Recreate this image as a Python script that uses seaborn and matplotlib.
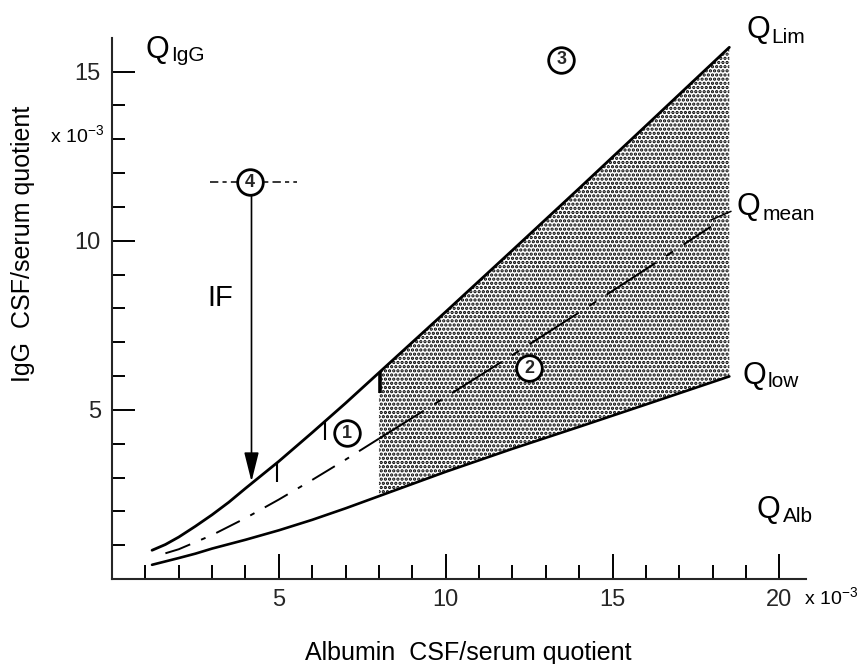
import numpy as np
import pandas as pd
import matplotlib
matplotlib.use("Agg")
import matplotlib.pyplot as plt
from matplotlib.ticker import FixedLocator
import seaborn as sns

# ---------------- data (quotients in units of 10^-3) ----------------
qalb = [1.2, 1.6, 2.0, 2.5, 3.0, 3.5, 4.0, 5.0, 6.0, 7.0, 8.0, 10.0, 12.0, 14.0, 16.0, 18.5]
q_lim = [0.85, 1.02, 1.24, 1.56, 1.90, 2.27, 2.68, 3.48, 4.33, 5.20, 6.10, 7.90, 9.72, 11.55, 13.40, 15.72]
q_low = [0.42, 0.52, 0.62, 0.75, 0.90, 1.03, 1.16, 1.44, 1.75, 2.09, 2.45, 3.17, 3.85, 4.50, 5.16, 5.99]
qalb_mean = [1.6, 2.0, 3.0, 4.0, 5.0, 6.0, 7.0, 8.0, 10.0, 12.0, 14.0, 16.0, 17.95]
q_mean = [0.76, 0.88, 1.30, 1.80, 2.35, 2.93, 3.53, 4.15, 5.38, 6.62, 7.88, 9.16, 10.42]
shade_start = 8.0

marker_x = [4.93, 6.38, 8.02]
marker_bottom = [2.88, 4.11, 5.49]
marker_top = [3.42, 4.65, 6.13]

zone_labels = ["1", "2", "3", "4"]
zone_x = [7.05, 12.51, 13.46, 4.13]
zone_y = [4.31, 6.23, 15.35, 11.73]

if_x = 4.18
if_top = 11.33
if_bottom = 2.88
iso_line_x = [2.93, 5.53]
iso_line_y = [11.73, 11.73]

x_major = [5, 10, 15, 20]
x_minor = [1, 2, 3, 4, 6, 7, 8, 9, 11, 12, 13, 14, 16, 17, 18, 19]
y_major = [5, 10, 15]
y_minor = [1, 2, 3, 4, 6, 7, 8, 9, 11, 12, 13, 14]

# ---------------- style ----------------
sns.set_theme(style="ticks")
plt.rcParams["font.family"] = ["Liberation Sans", "DejaVu Sans"]
plt.rcParams["mathtext.fontset"] = "custom"
plt.rcParams["mathtext.rm"] = "Liberation Sans"
plt.rcParams["lines.scale_dashes"] = False
plt.rcParams["hatch.linewidth"] = 1.6
plt.rcParams["hatch.color"] = "black"

fig = plt.figure(figsize=(8.59, 6.64), dpi=100)
ax = fig.add_axes([0.1304, 0.128, 0.808, 0.815])
ax.set_xlim(0, 20.8)
ax.set_ylim(0, 16.0)

df = pd.DataFrame({"qalb": qalb, "lim": q_lim, "low": q_low})
dm = pd.DataFrame({"qalb": qalb_mean, "mean": q_mean})

# stippled region
sh = df[df["qalb"] >= shade_start]
ax.fill_between(sh["qalb"], sh["low"], sh["lim"], facecolor="white",
                edgecolor="black", hatch="....", linewidth=0, zorder=1)

# curves
sns.lineplot(data=df, x="qalb", y="lim", ax=ax, color="black", lw=2.0, zorder=3)
sns.lineplot(data=df, x="qalb", y="low", ax=ax, color="black", lw=1.9, zorder=3)
dm1 = dm[dm["qalb"] <= shade_start]
dm2 = dm[dm["qalb"] >= shade_start]
sns.lineplot(data=dm1, x="qalb", y="mean", ax=ax, color="black", lw=1.4,
             linestyle=(0, (19, 8.5, 3.5, 8.5)), zorder=3)
sns.lineplot(data=dm2, x="qalb", y="mean", ax=ax, color="black", lw=1.4,
             linestyle=(4, (42, 9, 6, 9)), zorder=3)

# marker bars on Q_Lim
for xm, yb, yt, w in zip(marker_x, marker_bottom, marker_top, [1.5, 1.5, 2.6]):
    ax.plot([xm, xm], [yb, yt], color="black", lw=w, zorder=3, solid_capstyle="butt")

# dashed horizontal line through zone 4
sns.lineplot(x=iso_line_x, y=iso_line_y, ax=ax, color="black", lw=1.1,
             linestyle=(0, (6, 3, 3, 3)), zorder=3)

# IF arrow
ax.annotate("", xy=(if_x, if_bottom), xytext=(if_x, if_top),
            arrowprops=dict(arrowstyle="-|>,head_length=0.4,head_width=0.1",
                            mutation_scale=45, lw=1.2, color="black",
                            shrinkA=0, shrinkB=0), zorder=4)

# zone circles
sns.scatterplot(x=zone_x, y=zone_y, ax=ax, s=340, marker="o", facecolor="white",
                edgecolor="black", linewidth=2.0, zorder=5)
for lab, zx, zy in zip(zone_labels, zone_x, zone_y):
    ax.text(zx, zy, lab, ha="center", va="center", fontsize=13, fontweight="bold",
            zorder=6)

# axes styling
sns.despine(ax=ax)
for s in ["left", "bottom"]:
    ax.spines[s].set_linewidth(1.5)
ax.xaxis.set_major_locator(FixedLocator(x_major))
ax.xaxis.set_minor_locator(FixedLocator(x_minor))
ax.yaxis.set_major_locator(FixedLocator(y_major))
ax.yaxis.set_minor_locator(FixedLocator(y_minor))
ax.tick_params(axis="x", which="major", direction="in", length=18, width=1.4,
               labelsize=17, pad=7, color="black")
ax.tick_params(axis="x", which="minor", direction="in", length=10, width=1.4, color="black")
ax.tick_params(axis="y", which="major", direction="in", length=16.5, width=1.4,
               labelsize=17, pad=8, color="black")
ax.tick_params(axis="y", which="minor", direction="in", length=9.5, width=1.4, color="black")
ax.set_xlabel("")
ax.set_ylabel("")

# texts
kw = dict(transform=ax.transData, clip_on=False, color="black")
ax.text(20.75, -0.77, r"x 10$^{\mathregular{-3}}$", fontsize=14, ha="left", va="baseline", **kw)
ax.text(-1.86, 12.90, r"x 10$^{\mathregular{-3}}$", fontsize=14, ha="left", va="baseline", **kw)

def qlabel(xq, yq, xs, ys, sub):
    ax.text(xq, yq, "Q", fontsize=22, ha="left", va="baseline", **kw)
    ax.text(xs, ys, sub, fontsize=15, ha="left", va="baseline", **kw)

qlabel(0.99, 15.41, 1.78, 15.31, "IgG")
qlabel(19.0, 16.0, 19.76, 15.86, "Lim")
qlabel(18.72, 10.77, 19.50, 10.62, "mean")
qlabel(18.88, 5.77, 19.66, 5.68, "low")
qlabel(19.32, 1.80, 20.10, 1.69, "Alb")
ax.plot([17.96, 18.55], [10.62, 10.87], color="black", lw=1.1, clip_on=False)

ax.text(2.87, 8.06, "IF", fontsize=21, ha="left", va="baseline", **kw)

ax.text(5.78, -2.40, "Albumin  CSF/serum quotient", fontsize=18, ha="left",
        va="baseline", **kw)
ax.text(-2.66, 9.90, "IgG  CSF/serum quotient", fontsize=18, rotation=90,
        ha="center", va="center", **kw)

fig.savefig("out.png", dpi=100)
